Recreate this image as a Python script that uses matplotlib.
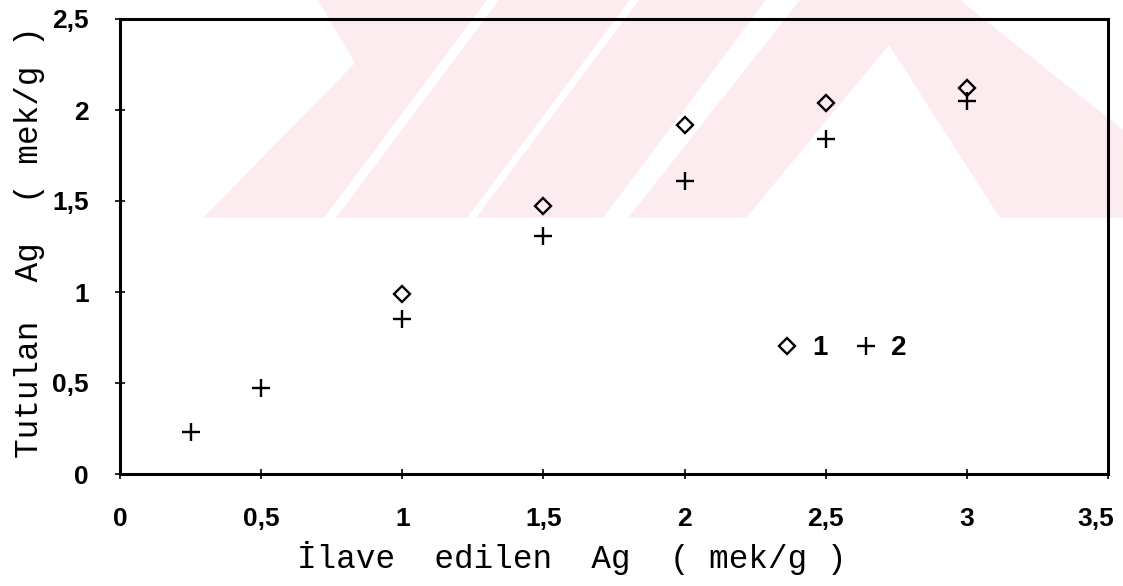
import matplotlib
matplotlib.use("Agg")
import matplotlib.pyplot as plt
from matplotlib.patches import Polygon
from matplotlib.transforms import ScaledTranslation

# data
added_ag_1 = [1, 1.5, 2, 2.5, 3]
held_ag_1 = [0.99, 1.47, 1.92, 2.04, 2.12]
added_ag_2 = [0.25, 0.5, 1, 1.5, 2, 2.5, 3]
held_ag_2 = [0.23, 0.47, 0.85, 1.31, 1.61, 1.84, 2.05]
series_names = ["1", "2"]

x_ticks = [0, 0.5, 1, 1.5, 2, 2.5, 3, 3.5]
x_tick_labels = ["0", "0,5", "1", "1,5", "2", "2,5", "3", "3,5"]
y_ticks = [0, 0.5, 1, 1.5, 2, 2.5]
y_tick_labels = ["0", "0,5", "1", "1,5", "2", "2,5"]

W, H = 1123, 586
fig = plt.figure(figsize=(W / 100, H / 100), dpi=100)

# faint watermark in the background (pixel coords, y from top)
pink = "#fdecef"
shapes = [
    [(203, 218), (324, 218), (487, 0), (318, 0), (355, 63)],
    [(336, 218), (467, 218), (630, 0), (499, 0)],
    [(476, 218), (603, 218), (766, 0), (639, 0)],
    [(628, 218), (746, 218), (889, 45), (1000, 218), (1123, 218), (1123, 130), (960, 0), (800, 0)],
]
for pts in shapes:
    fig.patches.append(Polygon([(x / W, 1 - y / H) for x, y in pts], closed=True,
                               transform=fig.transFigure, facecolor=pink,
                               edgecolor="none", zorder=0))

ax = fig.add_axes([120 / W, 112 / H, 988 / W, 455 / H])
ax.set_facecolor("none")
ax.set_zorder(2)

ax.plot(added_ag_1, held_ag_1, linestyle="none", marker="D", markersize=8.5,
        markerfacecolor="none", markeredgecolor="black", markeredgewidth=1.7,
        label=series_names[0])
ax.plot(added_ag_2, held_ag_2, linestyle="none", marker="+", markersize=13,
        markeredgecolor="black", markeredgewidth=1.7, label=series_names[1])

ax.set_xlim(0, 3.5)
ax.set_ylim(0, 2.5)

ax.tick_params(direction="inout", length=7, width=1.2, labelsize=19)
ax.tick_params(axis="x", pad=20)
ax.tick_params(axis="y", pad=19)

tick_font = {"family": ["Liberation Sans", "DejaVu Sans"], "weight": "bold", "size": 19}
ax.set_xticks(x_ticks)
ax.set_xticklabels(x_tick_labels, fontdict=tick_font)
ax.set_yticks(y_ticks)
ax.set_yticklabels(y_tick_labels, fontdict=tick_font)

# last x label sits a little left of its tick, as in the original
last = ax.get_xticklabels()[-1]
last.set_transform(last.get_transform() + ScaledTranslation(-12 / 100, 0, fig.dpi_scale_trans))

for s in ax.spines.values():
    s.set_linewidth(2.2)

label_font = {"family": ["Liberation Mono", "DejaVu Sans Mono"], "size": 23.5}
ax.set_xlabel("İlave  edilen  Ag  ( mek/g )", fontdict=label_font)
ax.set_ylabel("Tutulan  Ag  ( mek/g )", fontdict=label_font)
ax.xaxis.set_label_coords((572 - 120) / 988, (474 - 558) / 455)
ax.xaxis.label.set_va("center")
ax.yaxis.set_label_coords((30 - 120) / 988, (474 - 242) / 455)
ax.yaxis.label.set_va("center")

leg = ax.legend(ncol=2, loc="center", bbox_to_anchor=(2.545 / 3.5, 0.69 / 2.5),
                frameon=False, handlelength=1.2, handletextpad=0.3,
                columnspacing=0.8,
                prop={"family": ["Liberation Sans", "DejaVu Sans"], "weight": "bold", "size": 20})

fig.savefig("out.png", dpi=100)
